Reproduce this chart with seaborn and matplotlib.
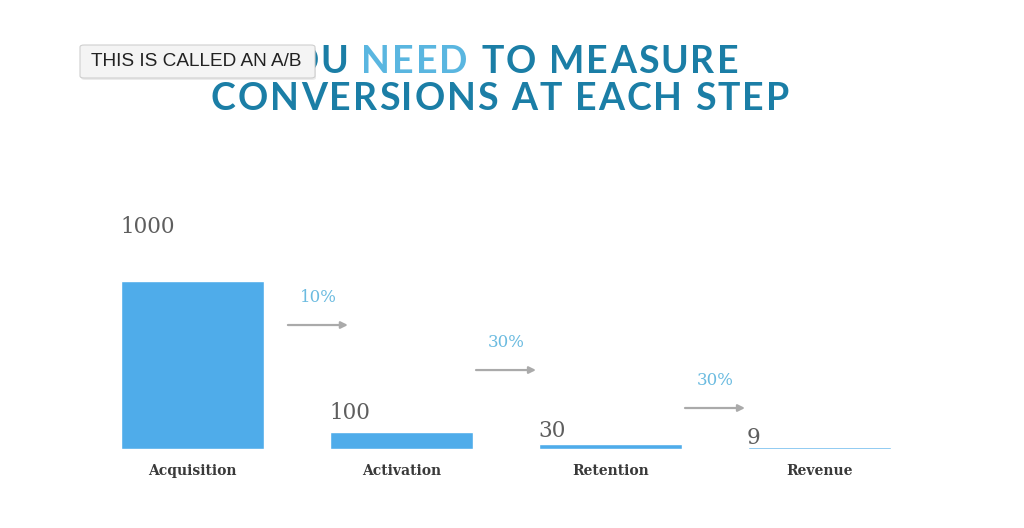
import matplotlib
matplotlib.use("Agg")
import matplotlib.pyplot as plt
import seaborn as sns
import pandas as pd
from matplotlib.patches import FancyBboxPatch
from matplotlib.font_manager import FontProperties, findfont, get_font
from matplotlib.ft2font import LOAD_NO_HINTING

# ---- data ----
stages = ["Acquisition", "Activation", "Retention", "Revenue"]
users = [1000, 100, 30, 9]
title_line1 = ["YOU ", "NEED", " TO MEASURE"]
title_line2 = "CONVERSIONS AT EACH STEP"
tooltip_text = "THIS IS CALLED AN A/B"

# ---- style ----
DARK = "#1b7ea6"
LIGHT = "#5ab6e0"
BAR = "#4facea"
PCT = "#6bbbe0"
W, H = 1024, 528

sns.set_theme(style="white")
plt.rcParams["font.family"] = ["DejaVu Serif"]

fig = plt.figure(figsize=(W / 100, H / 100), dpi=100)
fig.patch.set_facecolor("white")

# axes: bottom of bars at y=449px, 1000 -> 168px tall
ax = fig.add_axes([0, (H - 449) / H, 1, 168 / H])
df = pd.DataFrame({"stage": stages, "users": users})
sns.barplot(data=df, x="stage", y="users", color=BAR, saturation=1,
            width=0.684, ax=ax, zorder=2)
ax.set_xlim(-192.5 / 209, (W - 192.5) / 209)
ax.set_ylim(0, 1000)
ax.set_xlabel("")
ax.set_ylabel("")
ax.set_yticks([])
for s in ax.spines.values():
    s.set_visible(False)
ax.set_facecolor("none")
ax.tick_params(axis="x", length=0, pad=10.5, labelsize=10, labelcolor="#3a3a3a")
for t in ax.get_xticklabels():
    t.set_fontweight("bold")

# value labels above bars (left aligned at bar edge)
label_gap_px = [48, 13, 7, 3]
bars = ax.patches[:len(users)]
for p, v, g in zip(bars, users, label_gap_px):
    ax.annotate(f"{v}", xy=(p.get_x(), p.get_height()), xytext=(-1, g),
                textcoords="offset pixels", ha="left", va="baseline",
                fontsize=15.5, color="#5e5e5e", annotation_clip=False)

# conversion arrows and rates
arrow_y = [0.738, 0.470, 0.244]
arrow_shift = [0.10, 0.0, 0.0]
arrow_len = 0.287
for i in range(len(users) - 1):
    left = bars[i].get_x() + bars[i].get_width()
    right = bars[i + 1].get_x()
    xc = (left + right) / 2 + arrow_shift[i]
    y = arrow_y[i] * 1000
    ax.annotate("", xy=(xc + arrow_len / 2, y), xytext=(xc - arrow_len / 2, y),
                arrowprops=dict(arrowstyle="-|>", color="#aaaaaa", lw=1.6,
                                mutation_scale=10, shrinkA=0, shrinkB=0),
                annotation_clip=False)
    rate = users[i + 1] / users[i]
    ax.annotate(f"{rate:.0%}", xy=(xc, y), xytext=(0, 28),
                textcoords="offset pixels", ha="center", va="center",
                fontsize=12, color=PCT, annotation_clip=False)

# ---- title (letter-spaced, char by char) ----
TSIZE = 27
TRACK = 2.0  # extra px between letters
tprop = FontProperties(family=["Lato"], weight="bold", size=TSIZE)
ft = get_font(findfont(tprop))
ft.set_size(TSIZE, 100)


def adv(c):
    g = ft.load_char(ord(c), flags=LOAD_NO_HINTING)
    return g.linearHoriAdvance / 65536


def draw_tracked(segments, cx_px, baseline_px):
    chars = [(c, col) for txt, col in segments for c in txt]
    total = sum(adv(c) for c, _ in chars) + TRACK * (len(chars) - 1)
    x = cx_px - total / 2
    for c, col in chars:
        if c != " ":
            fig.text(x / W, 1 - baseline_px / H, c, ha="left", va="baseline",
                     color=col, fontproperties=tprop, zorder=5)
        x += adv(c) + TRACK


draw_tracked(list(zip(title_line1, [DARK, LIGHT, DARK])), 500, 73)
draw_tracked([(title_line2, DARK)], 500, 110)

# ---- tooltip overlay ----
bx0, bx1, by0, by1 = 80, 315, 45, 78
shadow = FancyBboxPatch(((bx0 + 1) / W, 1 - (by1 + 2) / H), (bx1 - bx0) / W,
                        (by1 - by0) / H, boxstyle="round,pad=0,rounding_size=0.004",
                        transform=fig.transFigure, fc="#000000", ec="none",
                        alpha=0.08, zorder=9)
box = FancyBboxPatch((bx0 / W, 1 - by1 / H), (bx1 - bx0) / W, (by1 - by0) / H,
                     boxstyle="round,pad=0,rounding_size=0.004",
                     transform=fig.transFigure, fc="#f4f4f4", ec="#cfcfcf",
                     lw=0.8, zorder=10)
fig.patches.extend([shadow, box])
fig.text(91 / W, 1 - 61 / H, tooltip_text, ha="left", va="center",
         fontsize=13.7, color="#222222", family=["Liberation Sans"], zorder=11)

fig.savefig("out.png", dpi=100, facecolor="white")
